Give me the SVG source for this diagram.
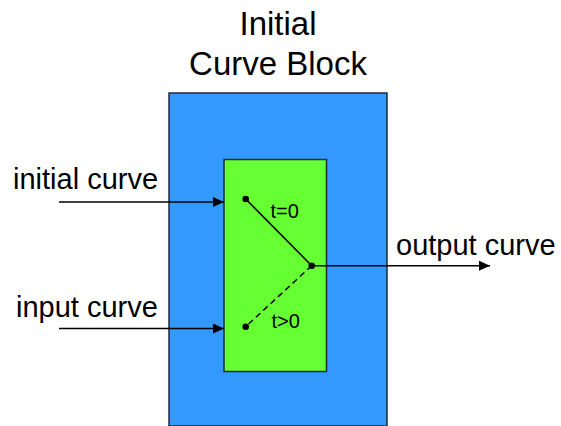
<svg xmlns="http://www.w3.org/2000/svg" width="561" height="426" viewBox="0 0 561 426">
<style>
text{font-family:"Liberation Sans",Arial,sans-serif;fill:#000}
.lbl{font-size:29px}
.ttl{font-size:33px;text-anchor:middle}
.sm{font-size:20px}
.box{stroke:#1f2a3a;stroke-width:1.5}
.wire{stroke:#000;stroke-width:1.5;fill:none}
</style>
<defs>
<marker id="ah" markerWidth="12" markerHeight="10" refX="11" refY="5" orient="auto" markerUnits="userSpaceOnUse">
<path d="M0,0 L11,5 L0,10 z" fill="#000"/>
</marker>
</defs>
<g id="title">
<text class="ttl" x="278" y="35">Initial</text>
<text class="ttl" x="278" y="75">Curve Block</text>
</g>
<g id="outer-block">
<rect class="box" x="169" y="93" width="218" height="333" fill="#3399FF"/>
</g>
<g id="inner-block">
<rect class="box" x="224" y="159.5" width="102.5" height="212" fill="#66FF33"/>
</g>
<g id="connectors">
<line class="wire" x1="59" y1="202" x2="224" y2="202" marker-end="url(#ah)"/>
<line class="wire" x1="59" y1="328.5" x2="224" y2="328.5" marker-end="url(#ah)"/>
<line class="wire" x1="311.5" y1="265.7" x2="490" y2="265.7" marker-end="url(#ah)"/>
<line class="wire" x1="245.7" y1="199" x2="311.7" y2="265.7"/>
<line class="wire" x1="311.7" y1="265.7" x2="245.7" y2="326.7" stroke-dasharray="6,4"/>
</g>
<g id="switch-points">
<circle cx="245.7" cy="199" r="3.3" fill="#000"/>
<circle cx="311.7" cy="265.7" r="3.3" fill="#000"/>
<circle cx="245.7" cy="326.7" r="3.3" fill="#000"/>
</g>
<g id="labels">
<text class="lbl" x="13" y="189">initial curve</text>
<text class="lbl" x="16" y="316.5">input curve</text>
<text class="lbl" x="396" y="255">output curve</text>
<text class="sm" x="270.5" y="218">t=0</text>
<text class="sm" x="271.5" y="327.5">t&gt;0</text>
</g>
</svg>
